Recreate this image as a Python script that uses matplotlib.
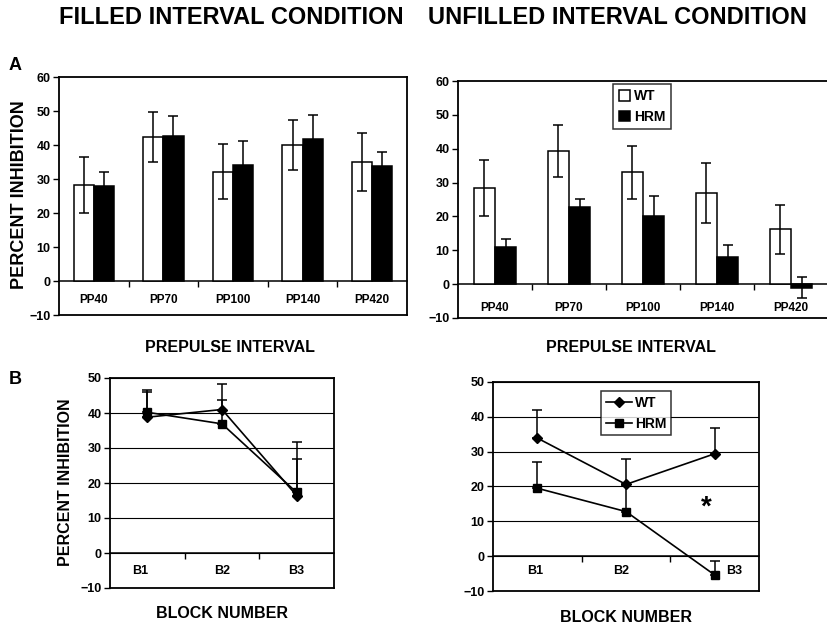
import matplotlib
matplotlib.use("Agg")
import matplotlib.pyplot as plt
import numpy as np

# =============================================================================
# Data
# =============================================================================
PP_LABELS = ["PP40", "PP70", "PP100", "PP140", "PP420"]
BLOCK_LABELS = ["B1", "B2", "B3"]

# Panel A, filled interval condition
FILLED_WT = [28.2, 42.3, 32.1, 40.0, 35.1]
FILLED_WT_ERR = [8.3, 7.3, 8.1, 7.4, 8.5]
FILLED_HRM = [28.0, 42.6, 34.2, 41.7, 33.9]
FILLED_HRM_ERR = [4.2, 5.8, 6.9, 7.1, 4.0]

# Panel A, unfilled interval condition
UNFILLED_WT = [28.4, 39.3, 33.0, 27.0, 16.2]
UNFILLED_WT_ERR = [8.3, 7.7, 7.9, 8.9, 7.2]
UNFILLED_HRM = [11.1, 22.7, 20.2, 7.9, -1.0]
UNFILLED_HRM_ERR = [2.2, 2.5, 5.8, 3.6, 3.1]

# Panel B, block data
BLOCK_FILLED_WT = [38.8, 41.0, 16.4]
BLOCK_FILLED_WT_ERR = [7.3, 7.4, 15.2]
BLOCK_FILLED_HRM = [40.2, 36.9, 17.3]
BLOCK_FILLED_HRM_ERR = [6.5, 6.9, 9.7]

BLOCK_UNFILLED_WT = [33.9, 20.6, 29.4]
BLOCK_UNFILLED_WT_ERR = [8.2, 7.2, 7.5]
BLOCK_UNFILLED_HRM = [19.5, 12.8, -5.4]
BLOCK_UNFILLED_HRM_ERR = [7.6, 7.5, 4.1]

# =============================================================================
# Style
# =============================================================================
plt.rcParams["font.family"] = ["Liberation Sans", "DejaVu Sans"]
plt.rcParams["font.weight"] = "bold"
W, H = 827, 625
TICK_FS = 9
CAT_FS = 8.5
BAR_W = 0.29


def fig_rect(x0, y0, x1, y1):
    """pixel box -> figure coords"""
    return [x0 / W, 1 - y1 / H, (x1 - x0) / W, (y1 - y0) / H]


def style_axes(ax, ncat, ymin, ymax):
    ax.set_xlim(-0.5, ncat - 0.5)
    ax.set_ylim(ymin, ymax)
    ax.set_yticks(np.arange(ymin, ymax + 1, 10))
    ax.set_xticks([])
    for sp in ax.spines.values():
        sp.set_linewidth(1.3)
    ax.tick_params(axis="y", direction="out", length=4, width=1,
                   labelsize=TICK_FS, pad=2)
    for lab in ax.get_yticklabels():
        lab.set_fontweight("bold")
    # category axis crossing at zero
    sec = ax.secondary_xaxis((0 - ymin) / (ymax - ymin))
    sec.set_xticks(np.arange(ncat - 1) + 0.5)
    sec.tick_params(direction="out", length=4, width=1, labelbottom=False)
    sec.spines["bottom"].set_linewidth(1.1)
    return sec


def cat_labels(ax, labels, y, size, shifts=None):
    shifts = shifts or [0] * len(labels)
    for i, lab in enumerate(labels):
        ax.text(i + shifts[i], y, lab, ha="center", va="center",
                fontsize=size, fontweight="bold")


def bar_panel(ax, wt, wt_err, hrm, hrm_err, label_y):
    x = np.arange(len(wt))
    ax.bar(x - BAR_W / 2, wt, BAR_W, color="white", edgecolor="black",
           linewidth=1.1, label="WT", zorder=2)
    ax.bar(x + BAR_W / 2, hrm, BAR_W, color="black", edgecolor="black",
           linewidth=1.1, label="HRM", zorder=2)
    ax.errorbar(x - BAR_W / 2, wt, yerr=wt_err, fmt="none", ecolor="black",
                elinewidth=1.1, capsize=3.5, capthick=1.1, zorder=3)
    ax.errorbar(x + BAR_W / 2, hrm, yerr=hrm_err, fmt="none", ecolor="black",
                elinewidth=1.1, capsize=3.5, capthick=1.1, zorder=3)
    style_axes(ax, len(wt), -10, 60)
    cat_labels(ax, PP_LABELS, label_y, CAT_FS)


def line_panel(ax, wt, wt_err, hrm, hrm_err):
    x = np.arange(len(wt))
    zeros = np.zeros(len(wt))
    ax.errorbar(x, wt, yerr=[zeros, wt_err], fmt="none", ecolor="black",
                elinewidth=1.1, capsize=3.5, capthick=1.1, zorder=3)
    ax.errorbar(x, hrm, yerr=[zeros, hrm_err], fmt="none", ecolor="black",
                elinewidth=1.1, capsize=3.5, capthick=1.1, zorder=3)
    ax.plot(x, wt, color="black", lw=1.2, marker="D", ms=5, label="WT",
            zorder=4)
    ax.plot(x, hrm, color="black", lw=1.2, marker="s", ms=6, label="HRM",
            zorder=4)
    style_axes(ax, len(wt), -10, 50)
    ax.yaxis.grid(True, color="black", linewidth=0.8)
    ax.set_axisbelow(True)


# =============================================================================
# Figure
# =============================================================================
fig = plt.figure(figsize=(W / 100, H / 100), dpi=100)

ax_a1 = fig.add_axes(fig_rect(59, 77, 407, 315))
bar_panel(ax_a1, FILLED_WT, FILLED_WT_ERR, FILLED_HRM, FILLED_HRM_ERR, -5.6)

ax_a2 = fig.add_axes(fig_rect(458, 81, 828, 318))
bar_panel(ax_a2, UNFILLED_WT, UNFILLED_WT_ERR, UNFILLED_HRM,
          UNFILLED_HRM_ERR, -7.0)
leg = ax_a2.legend(loc="upper left", bbox_to_anchor=(0.42, 0.988),
                   fontsize=10, frameon=True, fancybox=False,
                   edgecolor="black", handlelength=0.8, handleheight=0.8,
                   handletextpad=0.3, borderpad=0.4, labelspacing=0.45,
                   borderaxespad=0)
leg.get_frame().set_linewidth(1.1)

ax_b1 = fig.add_axes(fig_rect(110, 378, 334, 588))
line_panel(ax_b1, BLOCK_FILLED_WT, BLOCK_FILLED_WT_ERR,
           BLOCK_FILLED_HRM, BLOCK_FILLED_HRM_ERR)
cat_labels(ax_b1, BLOCK_LABELS, -5.1, TICK_FS, [-0.1, 0, 0])

ax_b2 = fig.add_axes(fig_rect(493, 382, 759, 591))
line_panel(ax_b2, BLOCK_UNFILLED_WT, BLOCK_UNFILLED_WT_ERR,
           BLOCK_UNFILLED_HRM, BLOCK_UNFILLED_HRM_ERR)
cat_labels(ax_b2, BLOCK_LABELS, -4.4, TICK_FS, [-0.02, -0.05, 0.22])
leg = ax_b2.legend(loc="upper left", bbox_to_anchor=(0.405, 0.955),
                   fontsize=10, frameon=True, fancybox=False,
                   edgecolor="black", handlelength=1.9, handletextpad=0.2,
                   borderpad=0.35, labelspacing=0.45, borderaxespad=0)
leg.get_frame().set_linewidth(1.1)
ax_b2.text(1.9, 14, "*", ha="center", va="center", fontsize=20,
           fontweight="bold")

# Titles and labels
fig.text(231 / W, 1 - 18 / H, "FILLED INTERVAL CONDITION", ha="center",
         va="center", fontsize=17, fontweight="bold")
fig.text(617 / W, 1 - 18 / H, "UNFILLED INTERVAL CONDITION", ha="center",
         va="center", fontsize=17, fontweight="bold")
fig.text(15 / W, 1 - 65 / H, "A", ha="center", va="center", fontsize=13,
         fontweight="bold")
fig.text(15 / W, 1 - 380 / H, "B", ha="center", va="center", fontsize=13,
         fontweight="bold")
fig.text(20 / W, 1 - 195 / H, "PERCENT INHIBITION", rotation=90,
         ha="center", va="center", fontsize=13, fontweight="bold")
fig.text(66 / W, 1 - 482 / H, "PERCENT INHIBITION", rotation=90,
         ha="center", va="center", fontsize=11.5, fontweight="bold")
fig.text(230 / W, 1 - 347 / H, "PREPULSE INTERVAL", ha="center",
         va="center", fontsize=11.5, fontweight="bold")
fig.text(631 / W, 1 - 347 / H, "PREPULSE INTERVAL", ha="center",
         va="center", fontsize=11.5, fontweight="bold")
fig.text(222 / W, 1 - 613 / H, "BLOCK NUMBER", ha="center", va="center",
         fontsize=11.5, fontweight="bold")
fig.text(626 / W, 1 - 617 / H, "BLOCK NUMBER", ha="center", va="center",
         fontsize=11.5, fontweight="bold")

fig.savefig("out.png", dpi=100)
plt.close(fig)
